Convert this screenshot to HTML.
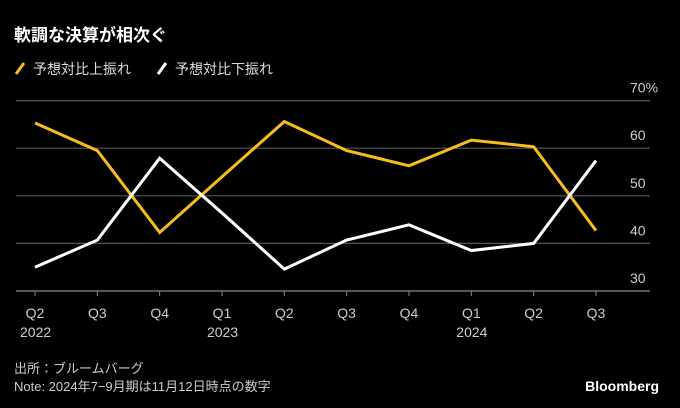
<!DOCTYPE html>
<html><head><meta charset="utf-8"><style>
body{margin:0;background:#000;width:680px;height:408px;overflow:hidden;font-family:"Liberation Sans","Noto Sans CJK JP",sans-serif;color:#fff}
</style></head><body>
<svg width="680" height="408" style="position:absolute;left:0;top:0">
<text x="14" y="41" fill="#fff" font-size="17" font-weight="bold" font-family="Liberation Sans, Noto Sans CJK JP, sans-serif">軟調な決算が相次ぐ</text>
<g font-size="14" font-family="Liberation Sans, Noto Sans CJK JP, sans-serif" fill="#ddd">
<line x1="16" y1="74" x2="24" y2="63" stroke="#f5bf1b" stroke-width="3"/>
<text x="33" y="74">予想対比上振れ</text>
<line x1="158" y1="74" x2="166" y2="63" stroke="#fff" stroke-width="3"/>
<text x="175" y="74">予想対比下振れ</text>
</g>
<g id="grid"></g><g id="axis"></g><g id="lines"></g>
<text x="14" y="373" fill="#ccc" font-size="13" font-family="Liberation Sans, Noto Sans CJK JP, sans-serif">出所：ブルームバーグ</text>
<text x="14" y="391" fill="#ccc" font-size="13" font-family="Liberation Sans, Noto Sans CJK JP, sans-serif">Note: 2024年7−9月期は11月12日時点の数字</text>
<text x="659" y="391" fill="#fff" font-size="14" font-weight="bold" text-anchor="end">Bloomberg</text>
</svg>
<script>
const categories=["Q2","Q3","Q4","Q1","Q2","Q3","Q4","Q1","Q2","Q3"];
const years=["2022","","","2023","","","","2024","",""];
const upside=[65.3,59.5,42.3,54.0,65.6,59.5,56.3,61.7,60.3,42.7];
const downside=[35.0,40.7,57.9,46.4,34.6,40.7,43.9,38.5,40.0,57.4];
const yTicks=[30,40,50,60,70];
const yTickLabels=["30","40","50","60","70%"];
const NS="http://www.w3.org/2000/svg";
const xS=i=>35+i*62.33;
const yS=v=>291-(v-30)*4.76;
function mk(t,a,p){const e=document.createElementNS(NS,t);for(const k in a)e.setAttribute(k,a[k]);p.appendChild(e);return e;}
const g=document.getElementById('grid');
yTicks.forEach((v,i)=>{
 const l=mk('line',{x1:16,x2:650,y1:yS(v),y2:yS(v),stroke:v===30?'#888':'#555','stroke-width':1.2},g);
 
 
 const t=mk('text',{x:630,y:yS(v)-8,fill:'#ccc','font-size':14},g);t.textContent=yTickLabels[i];
 
 
});
const ax=document.getElementById('axis');
categories.forEach((c,i)=>{
 const tk=mk('line',{x1:xS(i),x2:xS(i),y1:291,y2:296,stroke:'#888','stroke-width':1},ax);
 
 
 const t=mk('text',{x:xS(i),y:318,fill:'#ccc','font-size':14,'text-anchor':'middle'},ax);t.textContent=c;
 
 
 if(years[i]){const y=mk('text',{x:xS(i)-15,y:337,fill:'#ccc','font-size':14},ax);y.textContent=years[i];
 
 }
});
const lg=document.getElementById('lines');
[[upside,'#f5bf1b','upside-line'],[downside,'#fff','downside-line']].forEach(([d,col,n])=>{
 const p=mk('polyline',{points:d.map((v,i)=>xS(i)+','+yS(v)).join(' '),fill:'none',stroke:col,'stroke-width':3,'stroke-linejoin':'miter'},lg);
 
 
});
</script>
</body></html>
